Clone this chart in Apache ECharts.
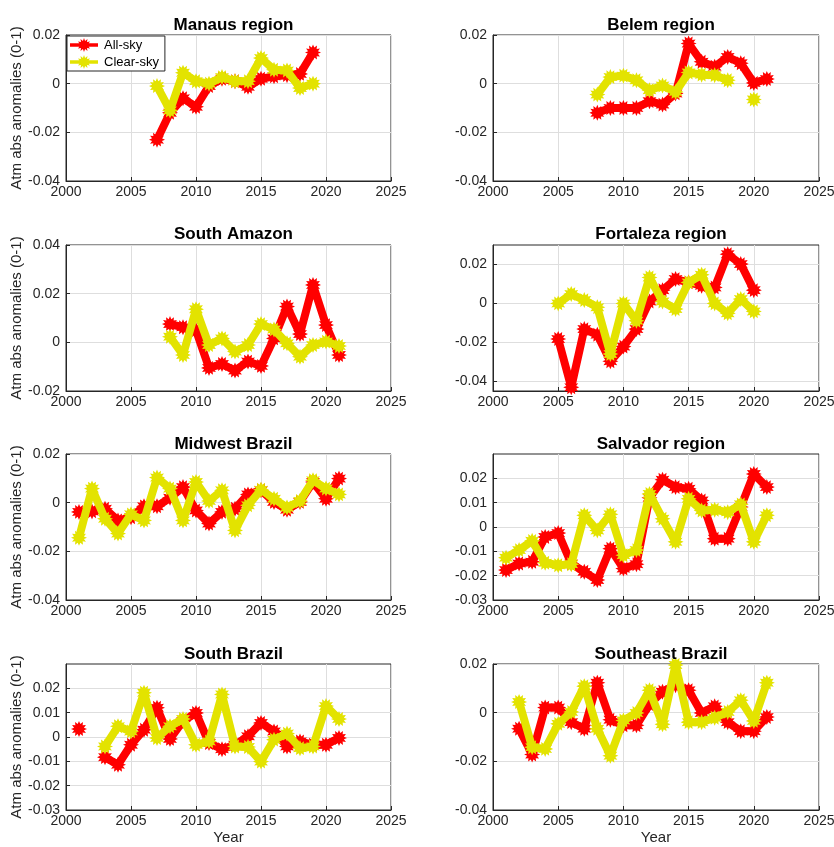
<!DOCTYPE html>
<html>
<head>
<meta charset="utf-8">
<script src="https://cdn.jsdelivr.net/npm/echarts@6/dist/echarts.min.js"></script>
<style>
  html, body { margin: 0; padding: 0; background: #fff; }
  #chart { width: 834px; height: 847px; }
</style>
</head>
<body>
<div id="chart"></div>
<script>
// ---------- DATA ----------
const years = [2001,2002,2003,2004,2005,2006,2007,2008,2009,2010,2011,2012,2013,2014,2015,2016,2017,2018,2019,2020,2021];
const xTicks = [2000, 2005, 2010, 2015, 2020, 2025];
const seriesNames = ['All-sky', 'Clear-sky'];

const panelTitles = ['Manaus region','Belem region','South Amazon','Fortaleza region','Midwest Brazil','Salvador region','South Brazil','Southeast Brazil'];

const manausAll   = [null,null,null,null,null,null,-0.023,-0.012,-0.006,-0.0095,-0.001,0.002,0.001,-0.0013,0.002,0.003,0.0035,0.004,0.0128,null,null];
const manausClear = [null,null,null,null,null,null,-0.001,-0.011,0.0045,0.001,0.0,0.0027,0.001,0.001,0.0105,0.0057,0.0054,-0.0018,0.0,null,null];

const belemAll    = [null,null,null,null,null,null,null,-0.012,-0.010,-0.010,-0.010,-0.0072,-0.0086,-0.004,0.0165,0.009,0.007,0.011,0.0084,0.0003,0.0019];
const belemClear  = [null,null,null,null,null,null,null,-0.0045,0.0027,0.0033,0.0014,-0.0027,-0.0008,-0.0034,0.0046,0.0037,0.0035,0.0014,null,-0.0065,null];

const southAmazonAll   = [null,null,null,null,null,null,null,0.0075,0.0062,0.005,-0.0105,-0.0089,-0.0116,-0.0079,-0.0097,0.0016,0.0147,0.0034,0.0236,0.0071,-0.0052];
const southAmazonClear = [null,null,null,null,null,null,null,0.0023,-0.0052,0.0136,-0.0011,0.0016,-0.0038,-0.0011,0.0075,0.0053,-0.0004,-0.0059,-0.0011,0.0003,-0.0015];

const fortalezaAll   = [null,null,null,null,-0.0183,-0.0431,-0.0132,-0.0161,-0.0297,-0.0222,-0.0132,0.001,0.0068,0.0125,0.0108,0.0091,0.0082,0.0253,0.0202,0.0068,null];
const fortalezaClear = [null,null,null,null,0.0,0.0048,0.0017,-0.002,-0.026,0.0,-0.0089,0.0133,0.001,-0.0029,0.0108,0.0147,0.0,-0.0051,0.0022,-0.0041,null];

const midwestAll   = [-0.0038,-0.0036,-0.0025,-0.0073,-0.006,-0.0015,-0.0015,0.002,0.0064,-0.0032,-0.0086,-0.0038,-0.0025,0.0034,0.0051,0.0003,-0.0029,0.0003,0.0085,0.0016,0.0099];
const midwestClear = [-0.0144,0.0058,-0.0066,-0.0127,-0.0048,-0.0073,0.0103,0.0058,-0.0073,0.0085,0.0007,0.0051,-0.0114,-0.0011,0.0053,0.0016,-0.002,0.0007,0.0092,0.0058,0.0034];

const salvadorAll   = [-0.0177,-0.015,-0.0143,-0.0041,-0.0025,-0.015,-0.0184,-0.0218,-0.0089,-0.0171,-0.0153,0.012,0.0194,0.0164,0.0157,0.0109,-0.0048,-0.0048,0.0082,0.0218,0.0164];
const salvadorClear = [-0.0126,-0.0095,-0.0057,-0.0147,-0.0157,-0.0153,0.0048,-0.0014,0.0052,-0.0116,-0.0095,0.0136,0.0034,-0.0061,0.0116,0.0068,0.0071,0.0061,0.0093,-0.0061,0.0048];

const southBrazilAll   = [0.0033,null,-0.0083,-0.0114,-0.0032,0.003,0.012,-0.0008,0.0065,0.0099,-0.0025,-0.005,-0.0032,0.0003,0.0058,0.0023,-0.0039,-0.0018,-0.0032,-0.0032,-0.0004];
const southBrazilClear = [null,null,-0.0039,0.0044,0.0023,0.0182,-0.0004,0.0044,0.0074,-0.0032,-0.0018,0.0175,-0.0039,-0.0041,-0.0101,-0.0011,0.0014,-0.0046,-0.0039,0.0127,0.0074];

const southeastAll   = [null,-0.0066,-0.0172,0.0021,0.0021,-0.0039,-0.0066,0.0123,-0.0029,-0.0052,-0.0052,0.0034,0.0086,0.0113,0.0092,-0.0001,0.0026,-0.0039,-0.0076,-0.0076,-0.0018];
const southeastClear = [null,0.0044,-0.0142,-0.0149,-0.0046,0.0003,0.0109,-0.0066,-0.0177,-0.0032,-0.0001,0.0092,-0.0048,0.0196,-0.0039,-0.0039,-0.0021,0.0003,0.0051,-0.0034,0.0123];

// y-axis limits and tick labels per panel
const yRange1 = [-0.04, 0.02];  const yTicks1 = [-0.04, -0.02, 0, 0.02];
const yRange2 = [-0.04, 0.02];  const yTicks2 = [-0.04, -0.02, 0, 0.02];
const yRange3 = [-0.02, 0.04];  const yTicks3 = [-0.02, 0, 0.02, 0.04];
const yRange4 = [-0.045, 0.03]; const yTicks4 = [-0.04, -0.02, 0, 0.02];
const yRange5 = [-0.04, 0.02];  const yTicks5 = [-0.04, -0.02, 0, 0.02];
const yRange6 = [-0.03, 0.03];  const yTicks6 = [-0.03, -0.02, -0.01, 0, 0.01, 0.02];
const yRange7 = [-0.03, 0.03];  const yTicks7 = [-0.03, -0.02, -0.01, 0, 0.01, 0.02];
const yRange8 = [-0.04, 0.02];  const yTicks8 = [-0.04, -0.02, 0, 0.02];

const allSky   = [manausAll, belemAll, southAmazonAll, fortalezaAll, midwestAll, salvadorAll, southBrazilAll, southeastAll];
const clearSky = [manausClear, belemClear, southAmazonClear, fortalezaClear, midwestClear, salvadorClear, southBrazilClear, southeastClear];
const yRanges  = [yRange1, yRange2, yRange3, yRange4, yRange5, yRange6, yRange7, yRange8];
const yTicks   = [yTicks1, yTicks2, yTicks3, yTicks4, yTicks5, yTicks6, yTicks7, yTicks8];

// ---------- STYLE ----------
const RED = '#ff0000';
const YEL = '#e3e300';
const FONT = '"Liberation Sans", Arial, Helvetica, sans-serif';
const TXT = '#262626';

function starPath(n, ro, ri, cx, cy) {
  let d = '';
  for (let i = 0; i < 2 * n; i++) {
    const r = i % 2 === 0 ? ro : ri;
    const a = Math.PI * i / n - Math.PI / 2;
    const x = (cx + r * Math.cos(a)).toFixed(2);
    const y = (cy + r * Math.sin(a)).toFixed(2);
    d += (i === 0 ? 'M' : 'L') + x + ',' + y;
  }
  return d + 'Z';
}
const STAR = 'path://' + starPath(12, 50, 32, 50, 50);
const LEGEND_ICON = 'path://M0,11L60,11L60,19L0,19Z' + starPath(12, 15, 9, 30, 15);

const colLeft = [66, 493];
const colWidth = [325, 326];
const rowTop = [35, 245, 454, 664];
const plotH = 146;
const titleTop = [12, 221, 431, 641];

const grids = [], xAxes = [], yAxes = [], series = [], titles = [];
for (let p = 0; p < 8; p++) {
  const col = p % 2, row = Math.floor(p / 2);
  grids.push({
    left: colLeft[col], top: rowTop[row], width: colWidth[col], height: plotH,
    show: true, borderColor: TXT, borderWidth: 1, backgroundColor: '#fff',
    containLabel: false, outerBoundsMode: 'none'
  });
  titles.push({
    text: panelTitles[p],
    left: colLeft[col] + colWidth[col] / 2, top: titleTop[row], textAlign: 'center',
    textStyle: { fontFamily: FONT, fontWeight: 'bold', fontSize: 17, color: '#000' }
  });
  xAxes.push({
    type: 'value', gridIndex: p, min: 2000, max: 2025, interval: 5,
    name: row === 3 ? 'Year' : '', nameLocation: 'middle', nameGap: 20,
    nameTextStyle: { fontFamily: FONT, fontSize: 15, color: TXT },
    axisLine: { show: true, onZero: false, lineStyle: { color: TXT, width: 1 } },
    axisTick: { show: true, inside: true, length: 4, lineStyle: { color: TXT }, customValues: xTicks },
    axisLabel: { fontFamily: FONT, fontSize: 14, color: TXT, margin: 4, customValues: xTicks,
                 formatter: (v) => String(v),
                 showMinLabel: true, showMaxLabel: true, hideOverlap: false },
    splitLine: { show: true, lineStyle: { color: '#dedede', width: 1 } }
  });
  yAxes.push({
    type: 'value', gridIndex: p, min: yRanges[p][0], max: yRanges[p][1],
    name: col === 0 ? 'Atm abs anomalies (0-1)' : '', nameLocation: 'middle', nameGap: 38, nameRotate: 90,
    nameTextStyle: { fontFamily: FONT, fontSize: 15, color: TXT },
    axisLine: { show: true, onZero: false, lineStyle: { color: TXT, width: 1 } },
    axisTick: { show: true, inside: true, length: 4, lineStyle: { color: TXT }, customValues: yTicks[p] },
    axisLabel: { fontFamily: FONT, fontSize: 14, color: TXT, margin: 6, customValues: yTicks[p],
                 formatter: (v) => String(v),
                 showMinLabel: true, showMaxLabel: true, hideOverlap: false },
    splitLine: { show: true, lineStyle: { color: '#dedede', width: 1 } }
  });
  const mk = (vals) => years.map((y, i) => [y, vals[i]]);
  const common = {
    type: 'line', xAxisIndex: p, yAxisIndex: p, connectNulls: false,
    symbol: STAR, symbolSize: 16, showSymbol: true, showAllSymbol: true,
    animation: false, silent: true, z: 3
  };
  series.push(Object.assign({}, common, {
    name: seriesNames[0], data: mk(allSky[p]),
    lineStyle: { color: RED, width: 8, join: 'round', cap: 'round' },
    itemStyle: { color: RED, borderWidth: 0 }
  }));
  series.push(Object.assign({}, common, {
    name: seriesNames[1], data: mk(clearSky[p]),
    lineStyle: { color: YEL, width: 8, join: 'round', cap: 'round' },
    itemStyle: { color: YEL, borderWidth: 0 }, z: 4
  }));
}

const chart = echarts.init(document.getElementById('chart'), null, { renderer: 'canvas' });
chart.setOption({
  backgroundColor: '#fff',
  animation: false,
  title: titles,
  grid: grids,
  xAxis: xAxes,
  yAxis: yAxes,
  legend: {
    data: [
      { name: seriesNames[0], icon: LEGEND_ICON, itemStyle: { color: RED } },
      { name: seriesNames[1], icon: LEGEND_ICON, itemStyle: { color: YEL } }
    ],
    orient: 'vertical', left: 67, top: 36,
    itemWidth: 32, itemHeight: 14, itemGap: 3,
    padding: [2, 6, 2, 3],
    backgroundColor: '#fff', borderColor: TXT, borderWidth: 1, borderRadius: 0,
    textStyle: { fontFamily: FONT, fontSize: 13, color: '#000', padding: [0, 0, 0, -1] },
    selectedMode: false
  },
  series: series
});
</script>
</body>
</html>
